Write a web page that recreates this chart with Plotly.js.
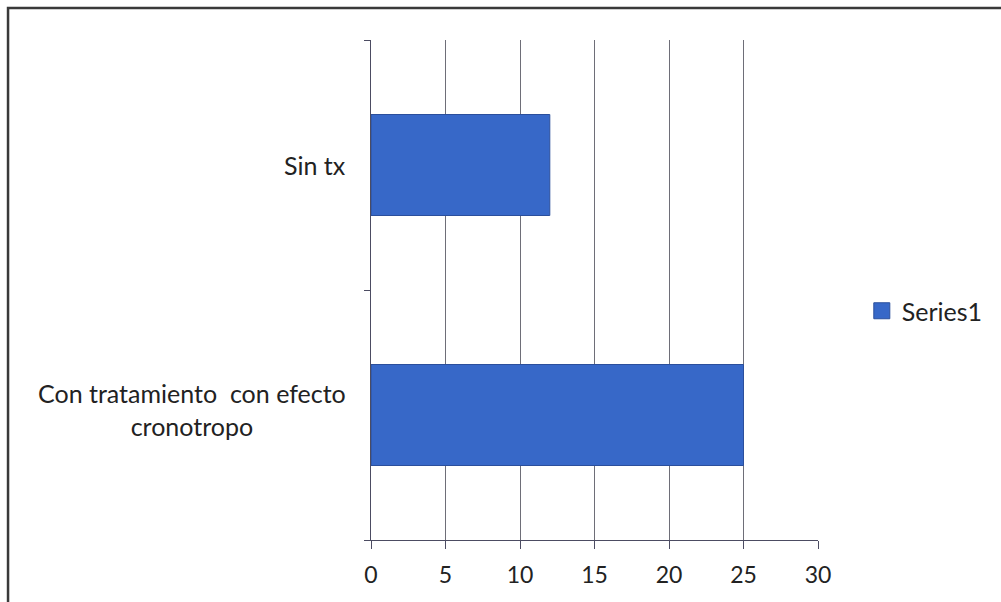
<!DOCTYPE html>
<html>
<head>
<meta charset="utf-8">
<script src="https://cdn.plot.ly/plotly-3.0.1.min.js"></script>
<style>
  html, body { margin: 0; padding: 0; background: #ffffff; }
  #chart { width: 1001px; height: 602px; }
</style>
</head>
<body>
<div id="chart"></div>
<script>
// Categories (bottom to top) and their values
const categories = ["Con tratamiento  con efecto cronotropo", "Sin tx"];
const categoryLabels = ["Con tratamiento\u00a0 con efecto<br>cronotropo", "Sin tx"];
const values = [25, 12];
const seriesName = "Series1";
const xTicks = [0, 5, 10, 15, 20, 25, 30];

const FONT = "Lato, 'Open Sans', sans-serif";
const BAR_FILL = "#3768c8";
const BAR_EDGE = "#2b4f9c";

const bars = {
  type: "bar",
  orientation: "h",
  name: seriesName,
  y: categories,
  x: values,
  marker: { color: BAR_FILL, line: { color: BAR_EDGE, width: 1 } },
  showlegend: false,
  hoverinfo: "x+y"
};

// Legend entry with a larger square swatch for the series
const legendKey = {
  type: "scatter",
  mode: "markers",
  name: seriesName,
  x: [null],
  y: [null],
  marker: { symbol: "square", size: 16, color: BAR_FILL, line: { color: BAR_EDGE, width: 1 } },
  showlegend: true,
  hoverinfo: "skip"
};

// Category labels: each line centred, block right-aligned next to the axis
const labelAnnotations = categories.map((c, i) => ({
  xref: "paper", yref: "y",
  x: -0.052, y: c,
  xanchor: "right", yanchor: "middle",
  yshift: i === 0 ? 6 : 0,
  align: "center",
  text: categoryLabels[i],
  showarrow: false,
  font: { family: FONT, size: 25, color: "#222222" }
}));

const layout = {
  width: 1001,
  height: 602,
  margin: { l: 371, r: 183, t: 40, b: 62, autoexpand: false },
  paper_bgcolor: "#ffffff",
  plot_bgcolor: "#ffffff",
  bargap: 0.596,
  font: { family: FONT, size: 23, color: "#222222" },
  xaxis: {
    range: [0, 30],
    tickvals: xTicks,
    ticktext: xTicks.map(String),
    showgrid: true,
    gridcolor: "#6e6e78",
    gridwidth: 1,
    zeroline: false,
    showline: true,
    linecolor: "#4c4c62",
    linewidth: 1,
    ticks: "outside",
    ticklen: 8,
    tickcolor: "#4c4c62",
    ticklabelstandoff: 6,
    tickfont: { family: FONT, size: 23, color: "#222222" },
    fixedrange: true
  },
  yaxis: {
    type: "category",
    categoryorder: "array",
    categoryarray: categories,
    showticklabels: false,
    ticks: "outside",
    tickson: "boundaries",
    ticklen: 6,
    tickcolor: "#4c4c62",
    showline: true,
    linecolor: "#4c4c62",
    linewidth: 1,
    showgrid: false,
    zeroline: false,
    fixedrange: true
  },
  legend: {
    x: 1.098, y: 0.458,
    xanchor: "left", yanchor: "middle",
    bgcolor: "rgba(0,0,0,0)",
    borderwidth: 0,
    font: { family: FONT, size: 25, color: "#222222" },
    itemwidth: 30
  },
  annotations: labelAnnotations,
  shapes: [{
    // frame around the chart (right/bottom edges fall outside the page)
    type: "rect",
    xref: "paper", yref: "paper",
    x0: -0.812, x1: 1.6,
    y0: -0.3, y1: 1.064,
    line: { color: "#3a3a3a", width: 2.5 },
    fillcolor: "rgba(0,0,0,0)",
    layer: "below"
  }]
};

Plotly.newPlot("chart", [bars, legendKey], layout, { displayModeBar: false, staticPlot: true });
</script>
</body>
</html>
